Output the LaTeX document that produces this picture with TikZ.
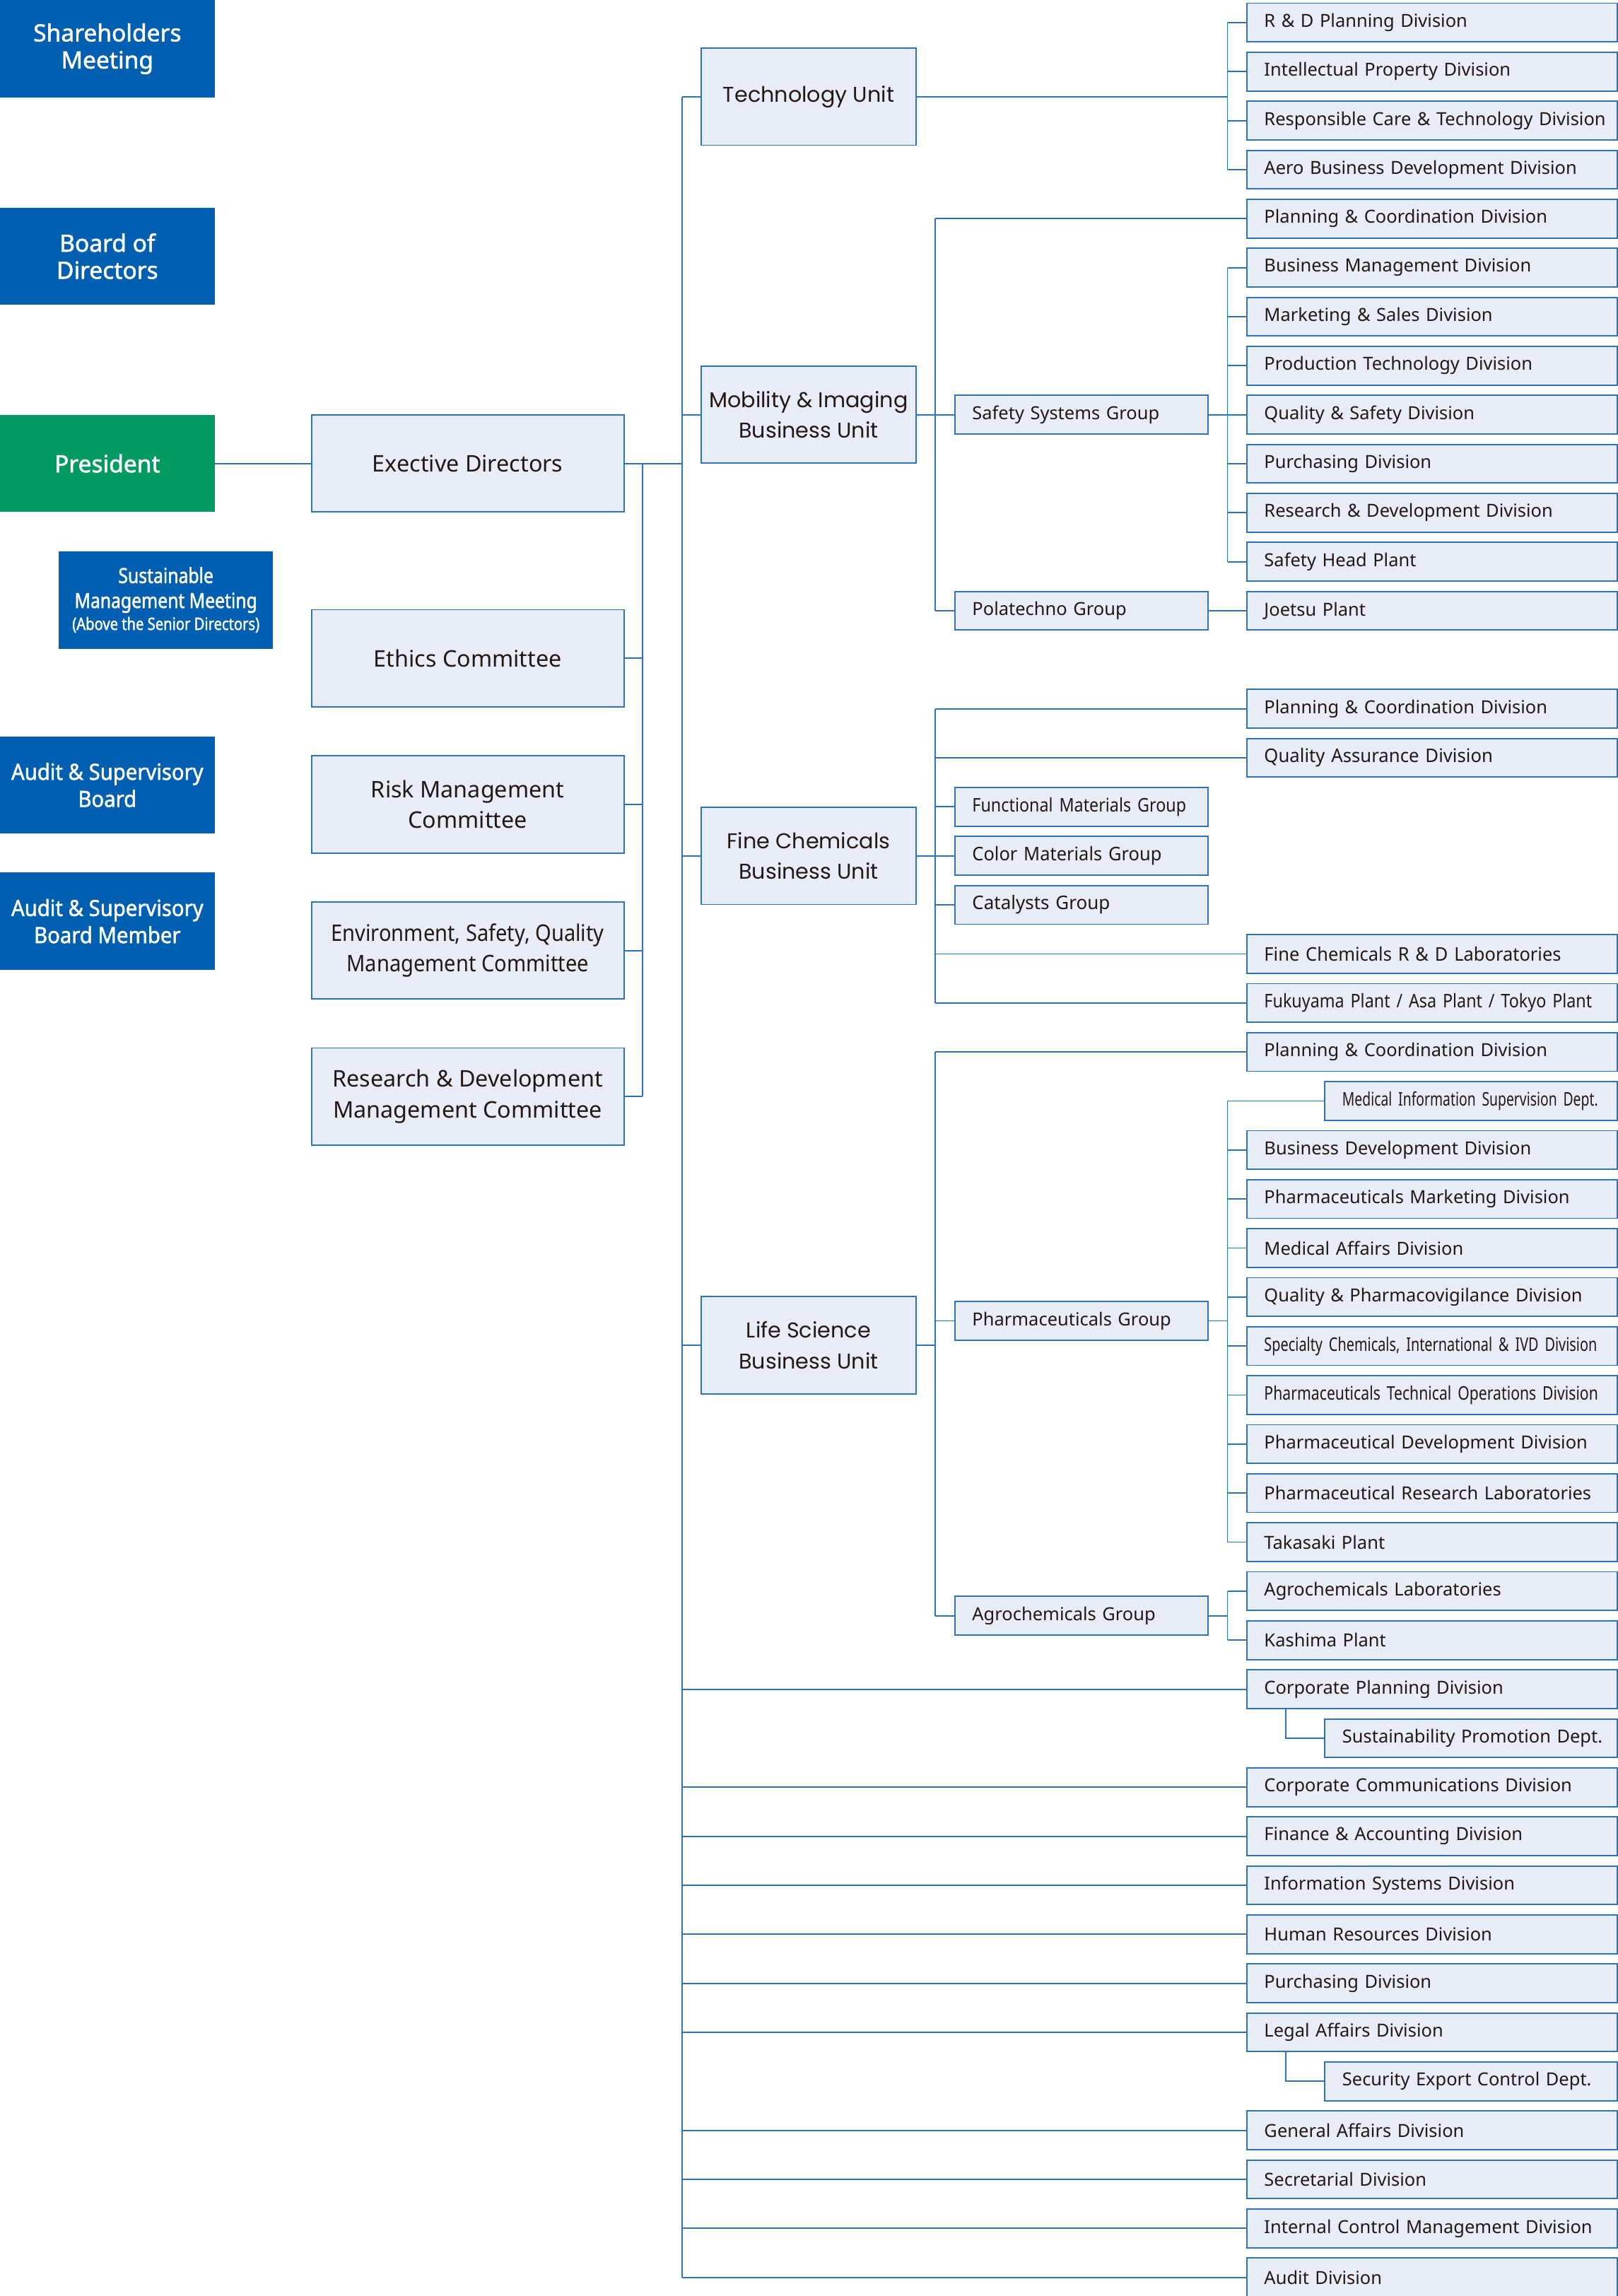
\documentclass[tikz,border=0pt]{standalone}
\usepackage{fontspec}
\setmainfont{Noto Sans}
\newfontfamily\lbfont[FakeBold=1.6]{Noto Sans}
\newfontfamily\lcfont[FakeStretch=0.93,FakeBold=1.6]{Noto Sans}
\newfontfamily\smfont[FakeStretch=0.84,FakeBold=1.6]{Noto Sans}
\newfontfamily\geofont{Poppins}
\definecolor{navy}{HTML}{005FB0}
\definecolor{pgreen}{HTML}{009A62}
\definecolor{lfill}{HTML}{E8ECF7}
\definecolor{lline}{HTML}{2C73B9}
\definecolor{ink}{HTML}{231815}
\newcommand{\divfs}{\fontsize{12.3}{14}\selectfont\hyphenpenalty=10000\relax}
\newcommand{\stretchfs}[1]{\addfontfeatures{FakeStretch=#1}\fontsize{12.8}{14}\selectfont\hyphenpenalty=10000\relax}
\begin{document}
\begin{tikzpicture}[x=1pt,y=-1pt,
  declare function={ry(\i)=15.4+(\i-1)*33.476;},
  conn/.style={draw=lline,line width=0.9pt},
  dk/.style={fill=navy,draw=none,text=white,minimum width=146.6pt,minimum height=66.5pt,inner sep=0pt,align=center,font=\lbfont\fontsize{16.2}{18.5}\selectfont},
  dkc/.style={dk,font=\lcfont\fontsize{15.2}{18.5}\selectfont},
  lt/.style={fill=lfill,draw=lline,line width=0.9pt,text=ink,inner sep=0pt},
  big/.style={lt,minimum height=66.4pt,align=center,font=\fontsize{15.6}{21}\selectfont},
  cmt/.style={big,minimum width=213.4pt},
  unitbox/.style={big,minimum width=146.5pt,font=\geofont\fontsize{14.6}{21}\selectfont},
  leftpad/.style={inner xsep=0pt,align=left,execute at begin node={\hspace*{12pt}}},
  divbox/.style={lt,leftpad,minimum height=26.4pt,text width=253pt,font=\divfs},
  divs/.style={divbox,font=\stretchfs{#1}},
  subbox/.style={lt,leftpad,minimum height=26.4pt,text width=199.7pt,font=\divfs},
  subs/.style={subbox,font=\stretchfs{#1}},
  grpbox/.style={lt,leftpad,minimum height=26.4pt,text width=173pt,font=\divfs},
  grps/.style={grpbox,font=\stretchfs{#1}}
]
\useasboundingbox (0,0) rectangle (1105,1568);
\fill[white] (0,0) rectangle (1105,1568);

% trunk / branch x positions
\coordinate (T) at (466,0);
\coordinate (B) at (439,0);
\coordinate (U) at (638.8,0);
\coordinate (G) at (838.3,0);
\coordinate (S) at (878.1,0);

% left column
\node[dk] (share) at (73.3,33.3) {Shareholders\\Meeting};
\node[dk] (board) at (73.3,175) {Board of\\Directors};
\node[dk,fill=pgreen] (pres) at (73.3,316.5) {President};
\node[dk,minimum width=146pt,font=\smfont\fontsize{14.2}{17}\selectfont] (smm) at (113.3,409.7) {Sustainable\\Management Meeting\\[-2pt]{\fontsize{11.6}{13}\selectfont (Above the Senior Directors)}};
\node[dkc] (asb) at (73.3,536.1) {Audit \& Supervisory\\Board};
\node[dkc] (asbm) at (73.3,629.1) {Audit \& Supervisory\\Board Member};

% committees
\node[cmt] (ed) at (319.4,316.5) {Exective Directors};
\node[cmt] (eth) at (319.4,449.6) {Ethics Committee};
\node[cmt] (risk) at (319.4,549.3) {Risk Management\\Committee};
\node[cmt,font=\addfontfeatures{FakeStretch=0.9}\fontsize{15.6}{21}\selectfont] (env) at (319.4,649.1) {Environment, Safety, Quality\\Management Committee};
\node[cmt] (rdm) at (319.4,748.9) {Research \& Development\\Management Committee};

% units
\node[unitbox] (tech) at (552.25,66) {Technology Unit};
\node[unitbox] (mob) at (552.25,{ry(9)}) {Mobility \& Imaging\\Business Unit};
\node[unitbox] (fc) at (552.25,{ry(18)}) {Fine Chemicals\\Business Unit};
\node[unitbox] (ls) at (552.25,918.6) {Life Science\\Business Unit};

% groups
\node[grpbox] (ssg) at (738.5,{ry(9)}) {Safety Systems Group};
\node[grpbox] (pola) at (738.5,{ry(13)}) {Polatechno Group};
\node[grps=0.88] (fmg) at (738.5,{ry(17)}) {Functional Materials Group};
\node[grps=0.96] (cmg) at (738.5,{ry(18)}) {Color Materials Group};
\node[grps=0.98] (cat) at (738.5,{ry(19)}) {Catalysts Group};
\node[grpbox] (pharma) at (738.5,902) {Pharmaceuticals Group};
\node[grpbox] (agro) at (738.5,{(ry(33)+ry(34))/2}) {Agrochemicals Group};

% divisions
\def\dx{977.9}
\def\sx{1004.55}
\node[divbox] (d1) at (\dx,{ry(1)}) {R \& D Planning Division};
\node[divbox] (d2) at (\dx,{ry(2)}) {Intellectual Property Division};
\node[divbox] (d3) at (\dx,{ry(3)}) {Responsible Care \& Technology Division};
\node[divbox] (d4) at (\dx,{ry(4)}) {Aero Business Development Division};
\node[divbox] (mpc) at (\dx,{ry(5)}) {Planning \& Coordination Division};
\node[divbox] (d6) at (\dx,{ry(6)}) {Business Management Division};
\node[divbox] (d7) at (\dx,{ry(7)}) {Marketing \& Sales Division};
\node[divbox] (d8) at (\dx,{ry(8)}) {Production Technology Division};
\node[divbox] (d9) at (\dx,{ry(9)}) {Quality \& Safety Division};
\node[divbox] (d10) at (\dx,{ry(10)}) {Purchasing Division};
\node[divbox] (d11) at (\dx,{ry(11)}) {Research \& Development Division};
\node[divbox] (d12) at (\dx,{ry(12)}) {Safety Head Plant};
\node[divbox] (joe) at (\dx,{ry(13)}) {Joetsu Plant};
\node[divbox] (fpc) at (\dx,{ry(15)}) {Planning \& Coordination Division};
\node[divs=0.97] (fqa) at (\dx,{ry(16)}) {Quality Assurance Division};
\node[divs=0.96] (frd) at (\dx,{ry(20)}) {Fine Chemicals R \& D Laboratories};
\node[divs=0.88] (fuk) at (\dx,{ry(21)}) {Fukuyama Plant / Asa Plant / Tokyo Plant};
\node[divbox] (lpc) at (\dx,{ry(22)}) {Planning \& Coordination Division};
\node[subs=0.73] (mis) at (\sx,{ry(23)}) {Medical Information Supervision Dept.};
\node[divbox] (p24) at (\dx,{ry(24)}) {Business Development Division};
\node[divbox] (p25) at (\dx,{ry(25)}) {Pharmaceuticals Marketing Division};
\node[divbox] (p26) at (\dx,{ry(26)}) {Medical Affairs Division};
\node[divbox] (p27) at (\dx,{ry(27)}) {Quality \& Pharmacovigilance Division};
\node[divs=0.75] (p28) at (\dx,{ry(28)}) {Specialty Chemicals, International \& IVD Division};
\node[divs=0.8] (p29) at (\dx,{ry(29)}) {Pharmaceuticals Technical Operations Division};
\node[divbox] (p30) at (\dx,{ry(30)}) {Pharmaceutical Development Division};
\node[divbox] (p31) at (\dx,{ry(31)}) {Pharmaceutical Research Laboratories};
\node[divbox] (tak) at (\dx,{ry(32)}) {Takasaki Plant};
\node[divbox] (agl) at (\dx,{ry(33)}) {Agrochemicals Laboratories};
\node[divbox] (kas) at (\dx,{ry(34)}) {Kashima Plant};
\node[divbox] (cpd) at (\dx,{ry(35)}) {Corporate Planning Division};
\node[subbox] (spd) at (\sx,{ry(36)}) {Sustainability Promotion Dept.};
\node[divbox] (ccd) at (\dx,{ry(37)}) {Corporate Communications Division};
\node[divbox] (fad) at (\dx,{ry(38)}) {Finance \& Accounting Division};
\node[divbox] (isd) at (\dx,{ry(39)}) {Information Systems Division};
\node[divbox] (hrd) at (\dx,{ry(40)}) {Human Resources Division};
\node[divbox] (pud) at (\dx,{ry(41)}) {Purchasing Division};
\node[divbox] (lad) at (\dx,{ry(42)}) {Legal Affairs Division};
\node[subbox] (sec) at (\sx,{ry(43)}) {Security Export Control Dept.};
\node[divbox] (gad) at (\dx,{ry(44)}) {General Affairs Division};
\node[divbox] (sed) at (\dx,{ry(45)}) {Secretarial Division};
\node[divbox] (icm) at (\dx,{ry(46)}) {Internal Control Management Division};
\node[divbox] (aud) at (\dx,{ry(47)}) {Audit Division};

% ---- connectors ----
\draw[conn] (pres.east) -- (ed.west);
\draw[conn] (ed.east) -- (ed.east -| T);
% main trunk
\draw[conn] (tech.west -| T) -- (aud.west -| T);
\foreach \n in {tech,mob,fc,ls}
  \draw[conn] (\n.west -| T) -- (\n.west);
\foreach \n in {cpd,ccd,fad,isd,hrd,pud,lad,gad,sed,icm,aud}
  \draw[conn] (\n.west -| T) -- (\n.west);
% committee branch
\draw[conn] (ed.east -| B) -- (rdm.east -| B);
\foreach \n in {eth,risk,env,rdm}
  \draw[conn] (\n.east) -- (\n.east -| B);
% technology unit
\draw[conn] (tech.east) -- (tech.east -| G);
\draw[conn] (d1.west -| G) -- (d4.west -| G);
\foreach \n in {d1,d2,d3,d4}
  \draw[conn] (\n.west -| G) -- (\n.west);
% mobility
\draw[conn] (mob.east) -- (mob.east -| U);
\draw[conn] (mpc.west -| U) -- (pola.west -| U);
\draw[conn] (mpc.west -| U) -- (mpc.west);
\foreach \n in {ssg,pola}
  \draw[conn] (\n.west -| U) -- (\n.west);
\draw[conn] (ssg.east) -- (ssg.east -| G);
\draw[conn] (d6.west -| G) -- (d12.west -| G);
\foreach \n in {d6,d7,d8,d9,d10,d11,d12}
  \draw[conn] (\n.west -| G) -- (\n.west);
\draw[conn] (pola.east) -- (joe.west);
% fine chemicals
\draw[conn] (fc.east) -- (fc.east -| U);
\draw[conn] (fpc.west -| U) -- (fuk.west -| U);
\foreach \n in {fpc,fqa,frd,fuk}
  \draw[conn] (\n.west -| U) -- (\n.west);
\foreach \n in {fmg,cmg,cat}
  \draw[conn] (\n.west -| U) -- (\n.west);
% life science
\draw[conn] (ls.east) -- (ls.east -| U);
\draw[conn] (lpc.west -| U) -- (agro.west -| U);
\draw[conn] (lpc.west -| U) -- (lpc.west);
\foreach \n in {pharma,agro}
  \draw[conn] (\n.west -| U) -- (\n.west);
\draw[conn] (pharma.east) -- (pharma.east -| G);
\draw[conn] (mis.west -| G) -- (tak.west -| G);
\foreach \n in {mis,p24,p25,p26,p27,p28,p29,p30,p31,tak}
  \draw[conn] (\n.west -| G) -- (\n.west);
\draw[conn] (agro.east) -- (agro.east -| G);
\draw[conn] (agl.west -| G) -- (kas.west -| G);
\foreach \n in {agl,kas}
  \draw[conn] (\n.west -| G) -- (\n.west);
% sub departments
\draw[conn] (cpd.south -| S) |- (spd.west);
\draw[conn] (lad.south -| S) |- (sec.west);
\end{tikzpicture}
\end{document}
